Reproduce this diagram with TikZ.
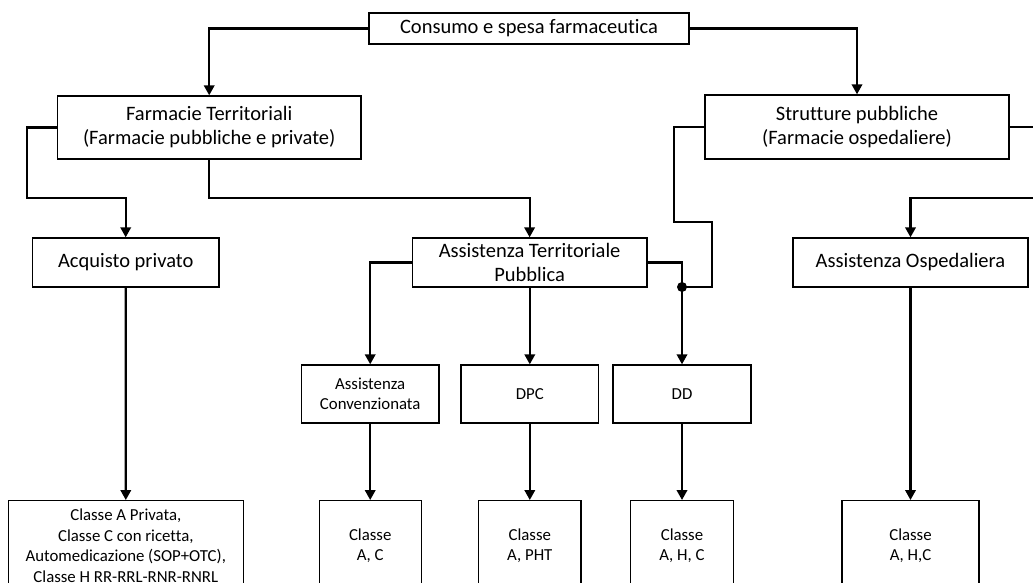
\documentclass[tikz,border=0pt]{standalone}
\usepackage{fontspec}
\setmainfont{Carlito}[Ligatures=NoCommon]
\usetikzlibrary{arrows.meta,calc}
\tikzset{
  box/.style={draw=black,line width=1.4pt,rectangle,inner sep=0pt,align=center,font=\fontsize{20.5}{24}\selectfont},
  sbox/.style={box,font=\fontsize{16.8}{20.5}\selectfont},
  conn/.style={line width=2.1pt},
  arr/.style={conn,-{Triangle[length=10pt,width=10.5pt]}},
}
\begin{document}
\begin{tikzpicture}[x=1pt,y=-1pt]
\useasboundingbox (0,0) rectangle (1033,583);
\clip (0,0) rectangle (1033,583);
\fill[white] (0,0) rectangle (1033,583);
% nodes
\node[box,minimum width=320pt,minimum height=31pt] (top) at (529,28.5) {Consumo e spesa farmaceutica};
\node[box,minimum width=303.7pt,minimum height=63pt] (ft) at (209.2,127.5) {Farmacie Territoriali\\(Farmacie pubbliche e private)};
\node[box,minimum width=304pt,minimum height=64pt] (sp) at (857,127) {Strutture pubbliche\\(Farmacie ospedaliere)};
\node[box,minimum width=186.7pt,minimum height=49pt] (acq) at (125.7,262.5) {Acquisto privato};
\node[box,minimum width=234.7pt,minimum height=49pt] (atp) at (529.6,262.5) {Assistenza Territoriale\\Pubblica};
\node[box,minimum width=235pt,minimum height=49pt] (ao) at (910.5,262.5) {Assistenza Ospedaliera};
\node[sbox,minimum width=137.7pt,minimum height=58pt] (ac) at (370.2,394) {Assistenza\\Convenzionata};
\node[sbox,minimum width=137.6pt,minimum height=58pt] (dpc) at (529.8,394) {DPC};
\node[sbox,minimum width=138pt,minimum height=58pt] (dd) at (682,394) {DD};
\node[sbox,minimum width=235pt,minimum height=90pt] (b1) at (125.8,545.7) {Classe A Privata,\\Classe C con ricetta,\\Automedicazione (SOP+OTC),\\Classe H RR-RRL-RNR-RNRL};
\node[sbox,minimum width=102pt,minimum height=90pt] (b2) at (370.2,545.7) {Classe\\A, C};
\node[sbox,minimum width=102.6pt,minimum height=90pt] (b3) at (529.8,545.7) {Classe\\A, PHT};
\node[sbox,minimum width=102.5pt,minimum height=90pt] (b4) at (682,545.7) {Classe\\A, H, C};
\node[sbox,minimum width=137pt,minimum height=90pt] (b5) at (910.5,545.7) {Classe\\A, H,C};
% helper coordinates
\coordinate (j) at (682,287);
\coordinate (e1) at (1040,127);
\coordinate (e2) at (1040,198);
% connectors
\draw[arr] (top.west) -| (ft.north);
\draw[arr] (top.east) -| (sp.north);
\draw[arr] (ft.west) -- (26.7,127.5) -- (26.7,198) -| (acq.north);
\draw[arr] (ft.south) -- ++(0,38.5) -| (atp.north);
\draw[arr] (atp.west) -| (ac.north);
\draw[arr] (atp.south -| dpc.north) -- (dpc.north);
\draw[arr] (atp.east) -| (dd.north);
\draw[conn] (sp.west) -- (674,127) -- (674,222) -- (712,222) -- (712,287) -- (j);
\fill (j) circle (5pt);
\draw[conn] (sp.east) -- (e1);
\draw[arr] (e2) -| (ao.north);
\draw[arr] (acq.south) -- (b1.north);
\draw[arr] (ac.south) -- (b2.north);
\draw[arr] (dpc.south) -- (b3.north);
\draw[arr] (dd.south) -- (b4.north);
\draw[arr] (ao.south) -- (b5.north);
\end{tikzpicture}
\end{document}
